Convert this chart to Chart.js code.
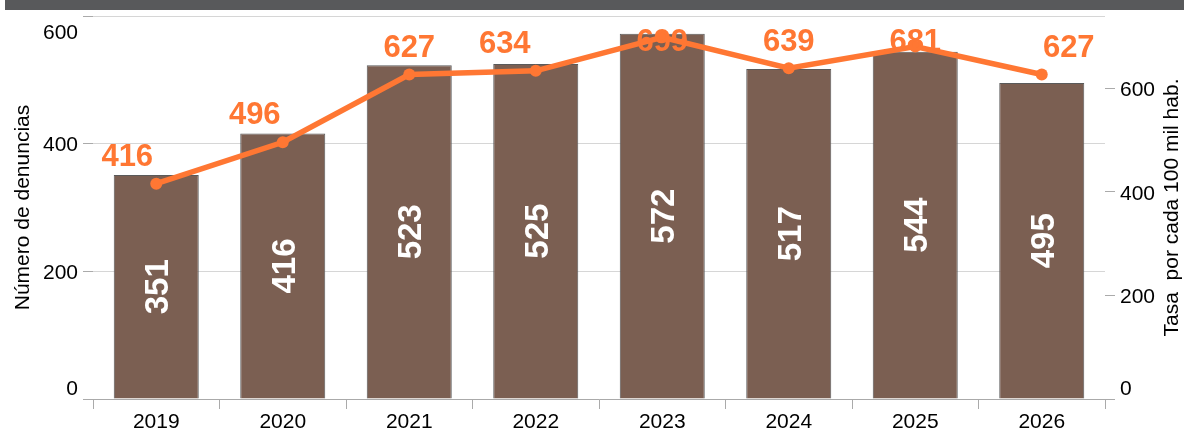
<!DOCTYPE html>
<html>
<head>
<meta charset="utf-8">
<script src="https://cdn.jsdelivr.net/npm/chart.js@4"></script>
<style>
    html, body { margin: 0; padding: 0; background: #ffffff; }
    #wrap { position: relative; width: 1184px; height: 429px; overflow: hidden; }
    #band { position: absolute; left: 5px; top: 0; width: 1179px; height: 10px; background: #58595b; }
    canvas { position: absolute; left: 0; top: 0; }
</style>
</head>
<body>
<div id="wrap">
    <canvas id="denuncias-chart" width="1184" height="429"></canvas>
    <div id="band"></div>
</div>
<script>
// Data
const years = ['2019', '2020', '2021', '2022', '2023', '2024', '2025', '2026'];
const denuncias = [351, 416, 523, 525, 572, 517, 544, 495];
const tasa = [416, 496, 627, 634, 699, 639, 681, 627];
const leftTicks = [0, 200, 400, 600];
const rightTicks = [0, 200, 400, 600];

const FONT = '"Liberation Sans", Arial, sans-serif';
const BAR_COLOR = '#7b5f52';
const LINE_COLOR = '#ff7733';

// Horizontal nudges (px) for the line labels, so they sit clear of the line
const LINE_LABEL_NUDGE = [-29, -28, 0, -31, 0, 0, 0, 27];

// Tick labels are kept inside the axis span, like the original
function drawAxisLabels(ctx, scale, values, x, align) {
    ctx.save();
    ctx.fillStyle = '#000000';
    ctx.font = '21px ' + FONT;
    ctx.textAlign = align;
    ctx.textBaseline = 'alphabetic';
    values.forEach(v => {
        let y = scale.getPixelForValue(v);
        y = Math.min(Math.max(y, scale.top + 15), scale.bottom - 11.5);
        ctx.fillText(String(v), x, y + 0.36 * 21);
    });
    ctx.restore();
}

// Draws value labels, tick labels and the right-hand axis title
const labelsPlugin = {
    id: 'valueLabels',
    afterDatasetsDraw(chart) {
        const ctx = chart.ctx;

        // bar labels, white and rotated, centred in each bar
        const barMeta = chart.getDatasetMeta(1);
        ctx.save();
        ctx.fillStyle = '#ffffff';
        ctx.font = 'bold 33px ' + FONT;
        ctx.textAlign = 'center';
        ctx.textBaseline = 'alphabetic';
        barMeta.data.forEach((bar, i) => {
            const cy = (bar.y + bar.base) / 2;
            ctx.save();
            ctx.translate(bar.x, cy);
            ctx.rotate(-Math.PI / 2);
            ctx.fillText(String(denuncias[i]), 0, 0.36 * 33);
            ctx.restore();
        });
        ctx.restore();

        // line labels, orange, above each point (kept below the top edge)
        const lineMeta = chart.getDatasetMeta(0);
        ctx.save();
        ctx.fillStyle = LINE_COLOR;
        ctx.font = 'bold 31px ' + FONT;
        ctx.textAlign = 'center';
        ctx.textBaseline = 'alphabetic';
        lineMeta.data.forEach((pt, i) => {
            const cy = Math.max(pt.y - 29, 40);
            ctx.fillText(String(tasa[i]), pt.x + LINE_LABEL_NUDGE[i], cy + 0.36 * 31);
        });
        ctx.restore();

        // axis tick labels
        const yScale = chart.scales.y;
        const y1Scale = chart.scales.y1;
        drawAxisLabels(ctx, yScale, leftTicks, yScale.right - 15, 'right');
        drawAxisLabels(ctx, y1Scale, rightTicks, y1Scale.left + 15, 'left');

        // right axis title, reading bottom to top
        const area = chart.chartArea;
        ctx.save();
        ctx.fillStyle = '#000000';
        ctx.font = '21px ' + FONT;
        ctx.textAlign = 'center';
        ctx.textBaseline = 'middle';
        ctx.translate(1172, (area.top + area.bottom) / 2);
        ctx.rotate(-Math.PI / 2);
        ctx.fillText('Tasa  por cada 100 mil hab.', 0, 0);
        ctx.restore();
    }
};

new Chart(document.getElementById('denuncias-chart'), {
    data: {
        labels: years,
        datasets: [
            {
                type: 'line',
                label: 'Tasa',
                data: tasa,
                yAxisID: 'y1',
                borderColor: LINE_COLOR,
                backgroundColor: LINE_COLOR,
                borderWidth: 5.5,
                pointRadius: 6,
                pointBorderWidth: 0,
                tension: 0,
                order: 0
            },
            {
                type: 'bar',
                label: 'Número de denuncias',
                data: denuncias,
                yAxisID: 'y',
                backgroundColor: BAR_COLOR,
                borderColor: '#5a5a5a',
                borderWidth: 1,
                categoryPercentage: 1,
                barPercentage: 0.672,
                order: 1
            }
        ]
    },
    options: {
        responsive: false,
        animation: false,
        layout: {
            padding: { top: 16, left: 0, right: 0, bottom: 0 }
        },
        scales: {
            x: {
                offset: true,
                grid: {
                    offset: true,
                    drawOnChartArea: false,
                    tickLength: 10,
                    tickColor: '#aaaaaa'
                },
                border: { color: '#aaaaaa', width: 1 },
                ticks: {
                    color: '#000000',
                    font: { family: FONT, size: 21 },
                    padding: 1,
                    maxRotation: 0
                },
                afterFit(scale) { scale.height = 30; }
            },
            y: {
                position: 'left',
                min: 0,
                max: 600,
                afterBuildTicks(scale) { scale.ticks = leftTicks.map(v => ({ value: v })); },
                grid: {
                    color: '#d6d6d6',
                    tickColor: '#aaaaaa',
                    tickLength: 10
                },
                border: { display: false },
                ticks: { display: false },
                title: {
                    display: true,
                    text: 'Número de denuncias',
                    color: '#000000',
                    font: { family: FONT, size: 21 },
                    padding: { top: 11, bottom: 0 }
                },
                afterFit(scale) { scale.width = 93; }
            },
            y1: {
                position: 'right',
                min: 0,
                max: 740,
                afterBuildTicks(scale) { scale.ticks = rightTicks.map(v => ({ value: v })); },
                grid: {
                    drawOnChartArea: false,
                    tickColor: '#aaaaaa',
                    tickLength: 10
                },
                border: { display: false },
                ticks: { display: false },
                afterFit(scale) { scale.width = 79; }
            }
        },
        plugins: {
            legend: { display: false },
            tooltip: { enabled: false }
        }
    },
    plugins: [labelsPlugin]
});
</script>
</body>
</html>
